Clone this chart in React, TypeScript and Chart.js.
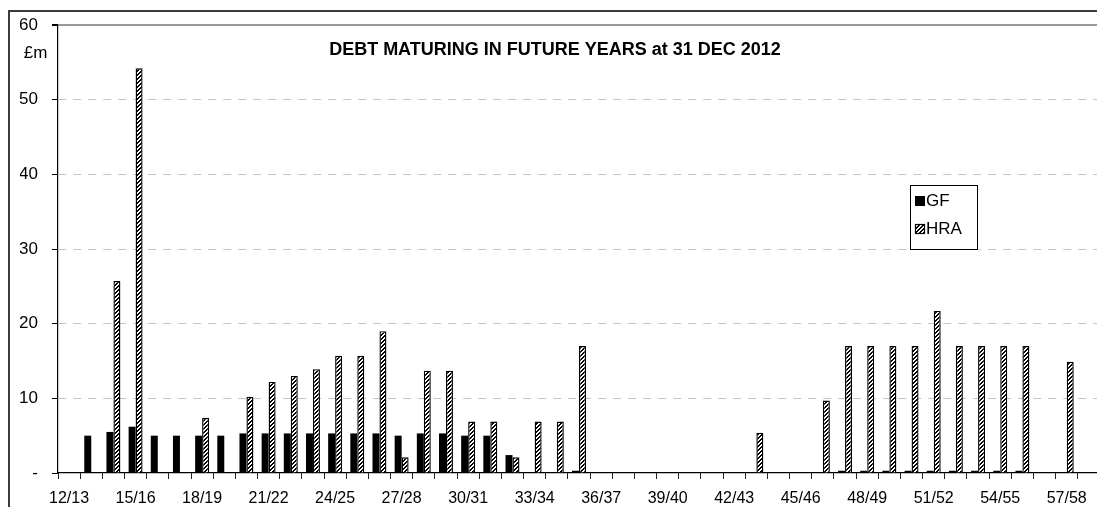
import React, { useEffect, useRef } from 'react';
import { Chart, registerables } from 'chart.js';

Chart.register(...registerables);

const categories = [
  '12/13', '13/14', '14/15', '15/16', '16/17', '17/18', '18/19', '19/20', '20/21', '21/22',
  '22/23', '23/24', '24/25', '25/26', '26/27', '27/28', '28/29', '29/30', '30/31', '31/32',
  '32/33', '33/34', '34/35', '35/36', '36/37', '37/38', '38/39', '39/40', '40/41', '41/42',
  '42/43', '43/44', '44/45', '45/46', '46/47', '47/48', '48/49', '49/50', '50/51', '51/52',
  '52/53', '53/54', '54/55', '55/56', '56/57', '57/58', '58/59',
];

const gfValues: (number | null)[] = [
  null, 5.0, 5.5, 6.2, 5.0, 5.0, 5.0, 5.0, 5.3, 5.3,
  5.3, 5.3, 5.3, 5.3, 5.3, 5.0, 5.3, 5.3, 5.0, 5.0,
  2.4, null, null, 0.3, null, null, null, null, null, null,
  null, null, null, null, 0.1, 0.3, 0.3, 0.3, 0.3, 0.3,
  0.3, 0.3, 0.3, 0.3, null, 0.1, null,
];

const hraValues: (number | null)[] = [
  null, null, 25.7, 54.2, null, null, 7.4, null, 10.2, 12.2,
  13.0, 13.9, 15.7, 15.7, 19.0, 2.1, 13.7, 13.7, 6.9, 6.9,
  2.1, 6.9, 6.9, 17.0, null, null, null, null, null, null,
  null, 5.4, null, null, 9.7, 17.0, 17.0, 17.0, 17.0, 21.7,
  17.0, 17.0, 17.0, 17.0, null, 14.9, null,
];

const seriesNames = ['GF', 'HRA'];
const yMin = 0;
const yMax = 60;
const yStep = 10;
const labelEvery = 3;
const titleText = 'DEBT MATURING IN FUTURE YEARS at 31 DEC 2012';
const unitText = '£m';

const FONT = '"Liberation Sans", Arial, sans-serif';

export default function App() {
  const canvasRef = useRef<HTMLCanvasElement | null>(null);

  useEffect(() => {
    const canvas = canvasRef.current;
    if (!canvas) return;
    const ctx = canvas.getContext('2d');
    if (!ctx) return;
    document.body.style.overflow = 'hidden';

    // crisp "/" diagonal hatch, 4px period
    const S = 4;
    const p = document.createElement('canvas');
    p.width = S;
    p.height = S;
    const pc = p.getContext('2d')!;
    pc.fillStyle = '#ffffff';
    pc.fillRect(0, 0, S, S);
    pc.fillStyle = '#000000';
    for (let yy = 0; yy < S; yy++) {
      for (let xx = 0; xx < S; xx++) {
        const m = (xx + yy) % S;
        if (m === 0 || m === 3) pc.fillRect(xx, yy, 1, 1);
      }
    }
    const hatch = ctx.createPattern(p, 'repeat')!;

    const overlay = {
      id: 'overlay',
      afterDraw(chart: any) {
        const c = chart.ctx as CanvasRenderingContext2D;
        c.save();
        // outer chart border
        c.strokeStyle = '#3c3c3c';
        c.lineWidth = 2;
        c.strokeRect(1, 3, chart.width + 20, chart.height + 20);
        // title
        c.fillStyle = '#000';
        c.textAlign = 'center';
        c.textBaseline = 'middle';
        c.font = `bold 18px ${FONT}`;
        c.fillText(titleText, 555 - 8, 42);
        // unit label
        c.font = `17px ${FONT}`;
        c.fillText(unitText, 27.5, 45);
        // legend
        c.strokeStyle = '#000';
        c.lineWidth = 1;
        c.strokeRect(902.5, 177.5, 67, 64);
        const ds = chart.data.datasets;
        const rows = [193, 221];
        ds.forEach((d: any, i: number) => {
          const y = rows[i];
          c.fillStyle = d.backgroundColor;
          c.fillRect(907, y - 5, 10, 10);
          if (i === 1) {
            c.strokeStyle = '#000';
            c.lineWidth = 1.2;
            c.strokeRect(907.5, y - 4.5, 9, 9);
          }
          c.fillStyle = '#000';
          c.textAlign = 'left';
          c.font = `17px ${FONT}`;
          c.fillText(d.label, 918, y + 0.5);
        });
        c.restore();
      },
    };

    const chart = new Chart(ctx, {
      type: 'bar',
      data: {
        labels: categories,
        datasets: [
          {
            label: seriesNames[0],
            data: gfValues,
            backgroundColor: '#000000',
            borderColor: '#000000',
            borderWidth: 0,
            categoryPercentage: 0.63,
            barPercentage: 1.0,
          },
          {
            label: seriesNames[1],
            data: hraValues,
            backgroundColor: hatch as any,
            borderColor: '#000000',
            borderWidth: 1.4,
            categoryPercentage: 0.63,
            barPercentage: 1.0,
          },
        ],
      },
      options: {
        responsive: false,
        animation: false,
        devicePixelRatio: 1,
        layout: { padding: { left: 12, right: 8, top: 17, bottom: 0 } },
        plugins: {
          legend: { display: false },
          title: { display: false },
          tooltip: { enabled: false },
        },
        scales: {
          x: {
            offset: true,
            grid: {
              display: true,
              offset: true,
              drawOnChartArea: false,
              drawTicks: true,
              tickLength: 6,
              tickColor: '#222',
              lineWidth: 1,
            },
            border: { display: true, color: '#000', width: 1.2 },
            afterFit: (scale: any) => {
              scale.height = 50;
            },
            ticks: {
              autoSkip: false,
              maxRotation: 0,
              minRotation: 0,
              padding: 10,
              color: '#000',
              font: { family: FONT, size: 16 },
              callback: (_v: any, i: number) => (i % labelEvery === 0 ? categories[i] : ''),
            },
          },
          y: {
            min: yMin,
            max: yMax,
            afterFit: (scale: any) => {
              scale.width = 38;
              scale.paddingTop = 0;
              scale.paddingBottom = 0;
            },
            ticks: {
              stepSize: yStep,
              padding: 14,
              color: '#000',
              font: { family: FONT, size: 17 },
              callback: (v: any) => (v === 0 ? '-' : String(v)),
            },
            grid: {
              drawTicks: true,
              tickLength: 6,
              tickColor: '#000',
              color: (c: any) =>
                c.tick && c.tick.value === yMax
                  ? '#9a9a9a'
                  : c.tick && c.tick.value === yMin
                  ? 'rgba(0,0,0,0)'
                  : '#c4c4c4',
              lineWidth: (c: any) => (c.tick && c.tick.value === yMax ? 2 : 1),
            },
            border: {
              display: true,
              color: '#000',
              width: 1.2,
              dash: (c: any) => (c.tick && c.tick.value !== yMax ? [8, 7] : []),
            } as any,
          },
        },
      },
      plugins: [overlay],
    });

    return () => {
      chart.destroy();
    };
  }, []);

  return (
    <div
      style={{
        position: 'fixed',
        left: 8,
        top: 8,
        width: 1089,
        height: 499,
        overflow: 'hidden',
        background: '#fff',
      }}
    >
      <canvas ref={canvasRef} width={1100} height={515} style={{ display: 'block' }} />
    </div>
  );
}
